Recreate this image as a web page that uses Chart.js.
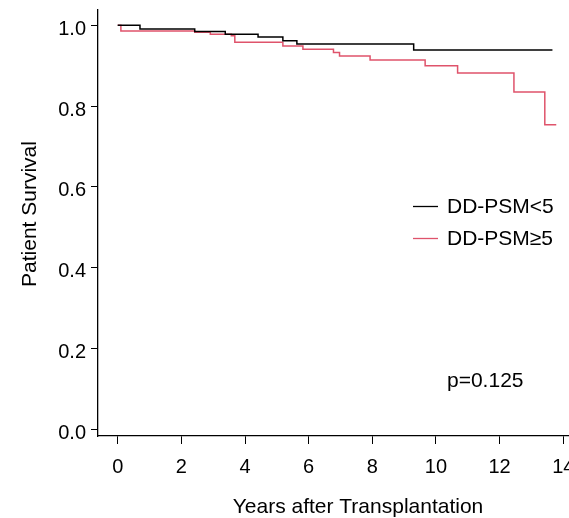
<!DOCTYPE html>
<html>
<head>
<meta charset="utf-8">
<script src="https://cdn.jsdelivr.net/npm/chart.js@4/dist/chart.umd.min.js"></script>
<style>
  html, body { margin: 0; padding: 0; background: #fff; overflow: hidden; }
</style>
</head>
<body>
<canvas id="kmChart" width="630" height="530"></canvas>
<script>
// Kaplan-Meier steps (years, survival)
var lowTimes = [0, 0.70, 2.42, 3.38, 4.41, 5.19, 5.63, 9.30, 13.66];
var lowSurv  = [1.0, 0.991, 0.985, 0.978, 0.971, 0.962, 0.954, 0.939, 0.939];

var highTimes = [0, 0.10, 2.42, 2.91, 3.57, 3.68, 5.19, 5.82, 6.78, 6.97, 7.93, 9.66, 10.68, 12.45, 13.42, 13.78];
var highSurv  = [1.0, 0.986, 0.983, 0.978, 0.974, 0.958, 0.949, 0.941, 0.933, 0.924, 0.914, 0.900, 0.882, 0.835, 0.754, 0.754];

var groups = ['DD-PSM<5', 'DD-PSM\u22655'];
var groupColors = ['#000000', '#DF536B'];
var xTicks = [0, 2, 4, 6, 8, 10, 12, 14];
var yTicks = [0, 0.2, 0.4, 0.6, 0.8, 1.0];
var xTitle = 'Years after Transplantation';
var yTitle = 'Patient Survival';
var pText = 'p=0.125';

var FONT = 'Liberation Sans, Arial, sans-serif';

function toPoints(t, s) {
  return t.map(function (v, i) { return { x: v, y: s[i] }; });
}

// no extra room for the edge labels, the plot box is fixed
function noEdgePadding(s) {
  s.paddingTop = 0;
  s.paddingBottom = 0;
  s.paddingLeft = 0;
  s.paddingRight = 0;
}

// legend, p value and y title drawn by hand (R style)
var extras = {
  id: 'extras',
  afterDraw: function (chart) {
    var ctx = chart.ctx;
    ctx.save();
    ctx.font = '21px ' + FONT;
    ctx.fillStyle = '#000';
    ctx.textAlign = 'left';
    ctx.textBaseline = 'middle';
    var ly = [206.5, 238.5];
    for (var i = 0; i < groups.length; i++) {
      ctx.strokeStyle = groupColors[i];
      ctx.lineWidth = 1.3;
      ctx.beginPath();
      ctx.moveTo(413, ly[i]);
      ctx.lineTo(438, ly[i]);
      ctx.stroke();
      ctx.fillText(groups[i], 447, ly[i] + 1);
    }
    ctx.textBaseline = 'alphabetic';
    ctx.fillText(pText, 447, 387);

    // y axis title
    ctx.translate(30, 214);
    ctx.rotate(-Math.PI / 2);
    ctx.textAlign = 'center';
    ctx.textBaseline = 'middle';
    ctx.fillText(yTitle, 0, 0);
    ctx.restore();
  }
};

var ctx = document.getElementById('kmChart');
var kmChart = new Chart(ctx, {
  type: 'line',
  data: {
    datasets: [
      {
        label: groups[0],
        data: toPoints(lowTimes, lowSurv),
        borderColor: groupColors[0],
        borderWidth: 1.5,
        stepped: 'before',
        pointRadius: 0,
        fill: false
      },
      {
        label: groups[1],
        data: toPoints(highTimes, highSurv),
        borderColor: groupColors[1],
        borderWidth: 1.5,
        stepped: 'before',
        pointRadius: 0,
        fill: false
      }
    ]
  },
  options: {
    responsive: false,
    animation: false,
    layout: { padding: { left: 0, top: 10, right: 12, bottom: 0 } },
    plugins: {
      legend: { display: false },
      tooltip: { enabled: false }
    },
    scales: {
      x: {
        type: 'linear',
        min: -0.619,
        max: 15.72,
        afterBuildTicks: function (s) { s.ticks = xTicks.map(function (v) { return { value: v }; }); },
        afterFit: function (s) { s.height = 94; noEdgePadding(s); },
        grid: { drawOnChartArea: false, drawTicks: true, tickLength: 8, color: '#000', lineWidth: 1 },
        border: { display: true, color: '#000', width: 1.3 },
        ticks: {
          color: '#000',
          font: { family: FONT, size: 20 },
          padding: 11,
          maxRotation: 0,
          autoSkip: false
        },
        title: {
          display: true,
          text: xTitle,
          color: '#000',
          font: { family: FONT, size: 21 },
          padding: { top: 0, bottom: 10 }
        }
      },
      y: {
        min: -0.017,
        max: 1.038,
        afterBuildTicks: function (s) { s.ticks = yTicks.map(function (v) { return { value: v }; }); },
        afterFit: function (s) { s.width = 98; noEdgePadding(s); },
        grid: { drawOnChartArea: false, drawTicks: true, tickLength: 7, color: '#000', lineWidth: 1 },
        border: { display: true, color: '#000', width: 1.3 },
        ticks: {
          color: '#000',
          font: { family: FONT, size: 20 },
          padding: 5,
          labelOffset: 4,
          callback: function (v) { return Number(v).toFixed(1); }
        }
      }
    }
  },
  plugins: [extras]
});
</script>
</body>
</html>
